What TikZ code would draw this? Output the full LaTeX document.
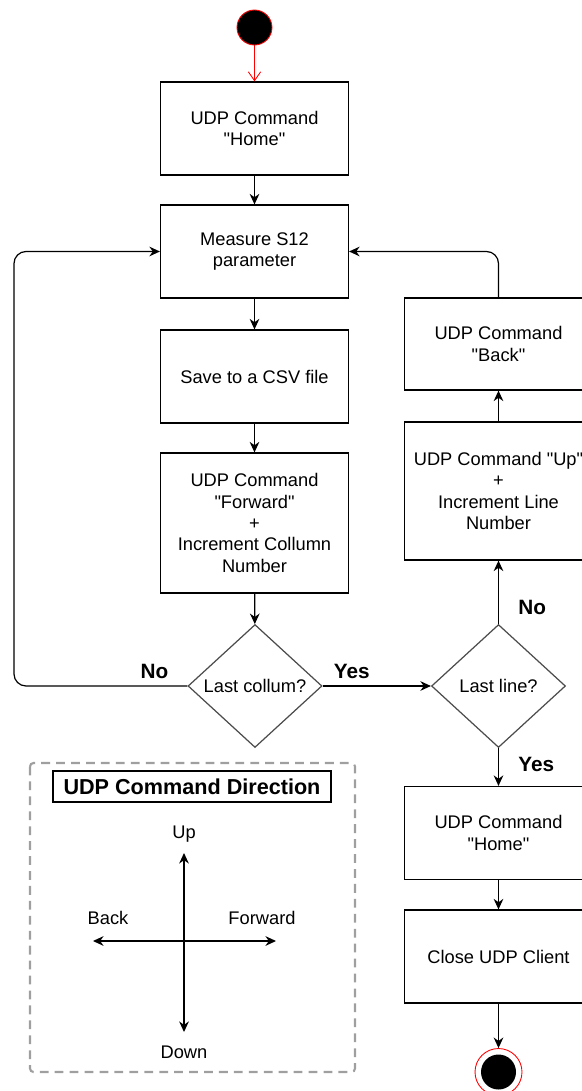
\documentclass[tikz,border=0pt]{standalone}
\usepackage{fontspec}
\setmainfont{Liberation Sans}
\usetikzlibrary{shapes.geometric,arrows.meta}
\newcommand{\qt}[1]{\textquotedbl#1\textquotedbl}
\tikzset{
	stepbox/.style={draw,line width=0.7pt,minimum width=3.76cm,minimum height=1.86cm,align=center,inner sep=2pt,font=\fontsize{10.4}{12.2}\selectfont},
	decide/.style={diamond,draw=black!70,line width=0.7pt,minimum width=2.68cm,minimum height=2.46cm,inner sep=0pt,font=\fontsize{10.4}{12.2}\selectfont},
	lbl/.style={font=\bfseries\fontsize{11.8}{14}\selectfont,inner sep=1pt},
	dirlbl/.style={font=\fontsize{10.4}{12.2}\selectfont,inner sep=1pt},
}
\begin{document}
\begin{tikzpicture}[>={Stealth[length=6pt,width=5.5pt]},x=0.02cm,y=-0.02cm,line width=0.7pt]
		\useasboundingbox (0,0) rectangle (581,1091);
		% main column
		\node[circle,fill=black,draw=red,line width=0.5pt,minimum size=0.7cm,inner sep=0pt] (start) at (254.5,27.5) {};
		\node[stepbox] (home) at (254.5,128.5) {UDP Command\\\qt{Home}};
		\node[stepbox] (measure) at (254.5,251.5) {Measure S12\\parameter};
		\node[stepbox] (save) at (254.5,376.5) {Save to a CSV file};
		\node[stepbox,minimum height=2.8cm] (forward) at (254.5,523) {UDP Command\\\qt{Forward}\\+\\Increment Collumn\\Number};
		\node[decide] (lastcol) at (255,686) {Last collum?};
		% right column
		\node[decide] (lastline) at (498.5,686) {Last line?};
		\node[stepbox,minimum height=2.76cm] (up) at (498.5,491) {UDP Command \qt{Up}\\+\\Increment Line\\Number};
		\node[stepbox,minimum height=1.84cm] (back) at (498.5,344) {UDP Command\\\qt{Back}};
		\node[stepbox] (homeend) at (498.5,833) {UDP Command\\\qt{Home}};
		\node[stepbox] (close) at (498.5,956.5) {Close UDP Client};
		\node[circle,draw=red,line width=0.5pt,minimum size=0.94cm,inner sep=0pt] (stop) at (498.5,1072) {};
		\node[circle,fill=black,minimum size=0.7cm,inner sep=0pt] (stopdot) at (stop) {};
		\coordinate (loopl) at (14,0);
		% connectors
		\draw[red,line width=0.5pt,-{Straight Barb[length=5pt,width=7pt]}] (start) -- (home);
		\draw[->] (home) -- (measure);
		\draw[->] (measure) -- (save);
		\draw[->] (save) -- (forward);
		\draw[->] (forward) -- (lastcol);
		\draw[->,rounded corners=0.24cm] (lastcol.west) -- node[lbl,pos=0.19,above=3pt]{No} (lastcol.west -| loopl) |- (measure.west);
		\draw[->] (lastcol.east) -- node[lbl,pos=0.27,above=3pt]{Yes} (lastline.west);
		\draw[->] (lastline.north) -- node[lbl,pos=0.26,right=10pt]{No} (up.south);
		\draw[->] (up) -- (back);
		\draw[->,rounded corners=0.24cm] (back.north) |- (measure.east);
		\draw[->] (lastline.south) -- node[lbl,pos=0.44,right=10pt]{Yes} (homeend.north);
		\draw[->] (homeend) -- (close);
		\draw[->] (close) -- (stop);
		% legend
		\draw[gray!75,line width=1.2pt,dash pattern=on 5pt off 3.5pt,rounded corners=2pt] (30,763) rectangle (355,1072);
		\node[draw,line width=0.7pt,minimum width=5.56cm,minimum height=0.62cm,inner sep=0pt,font=\bfseries\fontsize{12.3}{14}\selectfont] (legend) at (192,786.5) {UDP Command Direction};
		\coordinate (cross) at (184,941);
		\node[dirlbl] (dup) at (184,834) {Up};
		\node[dirlbl] (ddown) at (184,1052) {Down};
		\node[dirlbl] (dback) at (108,918) {Back};
		\node[dirlbl] (dfwd) at (262,918) {Forward};
		\coordinate (tipup) at (184,853);
		\coordinate (tipdown) at (184,1032);
		\coordinate (tipback) at (93,941);
		\coordinate (tipfwd) at (276,941);
		\draw[<->] (tipup) -- (tipdown);
		\draw[<->] (tipback) -- (tipfwd);
\end{tikzpicture}
\end{document}
